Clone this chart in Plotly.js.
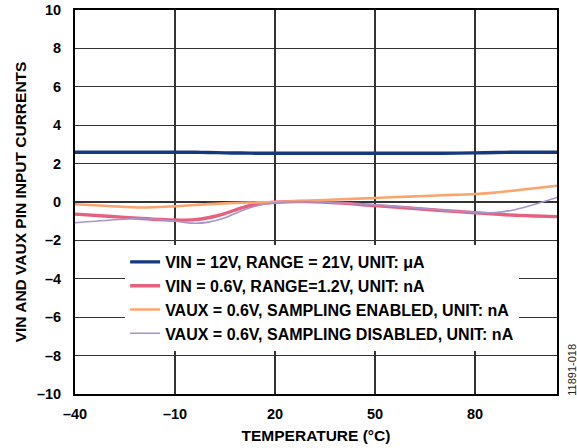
<!DOCTYPE html>
<html>
<head>
<meta charset="utf-8">
<script src="https://cdn.plot.ly/plotly-3.0.1.min.js"></script>
<style>
  html, body { margin: 0; padding: 0; background: #fff; }
  #chart { width: 577px; height: 448px; }
</style>
</head>
<body>
<div id="chart"></div>
<script>
// Temperature sample points (°C)
const temps = [-40, -30, -20, -10, -4, 0, 5, 10, 15, 20, 30, 40, 50, 60, 70, 80, 86, 92, 98, 104.6];

// Series values
const vin12 =   [2.59, 2.59, 2.59, 2.59, 2.59, 2.58, 2.56, 2.55, 2.54, 2.54, 2.54, 2.54, 2.54, 2.54, 2.54, 2.56, 2.58, 2.59, 2.59, 2.59];
const vin06 =   [-0.63, -0.74, -0.86, -0.94, -0.92, -0.82, -0.60, -0.30, -0.10, -0.01, 0.02, -0.06, -0.19, -0.31, -0.44, -0.56, -0.63, -0.69, -0.73, -0.76];
const vauxEn =  [-0.12, -0.21, -0.29, -0.22, -0.16, -0.11, -0.07, -0.04, -0.02, 0.00, 0.07, 0.14, 0.21, 0.28, 0.35, 0.42, 0.49, 0.60, 0.72, 0.85];
const vauxDis = [-1.08, -0.95, -0.86, -1.00, -1.11, -1.05, -0.82, -0.45, -0.18, -0.04, 0.02, -0.06, -0.15, -0.28, -0.42, -0.54, -0.55, -0.40, -0.12, 0.24];

const seriesNames = [
  'VIN = 12V, RANGE = 21V, UNIT: μA',
  'VIN = 0.6V, RANGE=1.2V, UNIT: nA',
  'VAUX = 0.6V, SAMPLING ENABLED, UNIT: nA',
  'VAUX = 0.6V, SAMPLING DISABLED, UNIT: nA'
];

// Tick labels
const xTickVals = [-40, -10, 20, 50, 80];
const xTickText = ['–40', '–10', '20', '50', '80'];
const yTickVals = [-10, -8, -6, -4, -2, 0, 2, 4, 6, 8, 10];
const yTickText = ['–10', '–8', '–6', '–4', '–2', '0', '2', '4', '6', '8', '10'];

const FONT = 'Liberation Sans, Arial, Helvetica, sans-serif';

const traces = [
  { x: temps, y: vin12,   name: seriesNames[0], type: 'scatter', mode: 'lines', line: { color: '#15387e', width: 3.4, shape: 'spline', smoothing: 0.8 } },
  { x: temps, y: vin06,   name: seriesNames[1], type: 'scatter', mode: 'lines', line: { color: '#e5617e', width: 3.4, shape: 'spline', smoothing: 0.8 } },
  { x: temps, y: vauxEn,  name: seriesNames[2], type: 'scatter', mode: 'lines', line: { color: '#fba46d', width: 2.6, shape: 'spline', smoothing: 0.8 } },
  { x: temps, y: vauxDis, name: seriesNames[3], type: 'scatter', mode: 'lines', line: { color: '#a893cc', width: 1.6, shape: 'spline', smoothing: 0.8 } }
];

const layout = {
  width: 577,
  height: 448,
  margin: { l: 75, r: 20, t: 10, b: 54 },
  paper_bgcolor: '#ffffff',
  plot_bgcolor: '#ffffff',
  font: { family: FONT, color: '#000', size: 14 },
  showlegend: true,
  xaxis: {
    range: [-40, 104.6],
    tickmode: 'array',
    tickvals: xTickVals,
    ticktext: xTickText,
    showgrid: true,
    gridcolor: '#333333',
    gridwidth: 1.3,
    zeroline: false,
    showline: true,
    mirror: true,
    linecolor: '#000000',
    linewidth: 2,
    ticks: '',
    ticklabelstandoff: 6,
    tickfont: { family: FONT, size: 14.5, weight: 'bold', color: '#000' },
    title: { text: 'TEMPERATURE (°C)', font: { family: FONT, size: 15.5, weight: 'bold', color: '#000' }, standoff: 9 }
  },
  yaxis: {
    range: [-10, 10],
    tickmode: 'array',
    tickvals: yTickVals,
    ticktext: yTickText,
    showgrid: true,
    gridcolor: '#333333',
    gridwidth: 1.3,
    zeroline: false,
    showline: true,
    mirror: true,
    linecolor: '#000000',
    linewidth: 2,
    ticks: '',
    ticklabelstandoff: 9,
    tickfont: { family: FONT, size: 14.5, weight: 'bold', color: '#000' },
    title: { text: 'VIN AND VAUX PIN INPUT CURRENTS', font: { family: FONT, size: 15.5, weight: 'bold', color: '#000' }, standoff: 6 }
  },
  legend: {
    x: 0.104,
    y: 0.388,
    xanchor: 'left',
    yanchor: 'top',
    bgcolor: '#ffffff',
    borderwidth: 0,
    itemwidth: 30,
    tracegroupgap: 0,
    font: { family: FONT, size: 16, weight: 'bold', color: '#000' }
  },
  annotations: [
    {
      text: '11891-018',
      xref: 'paper', yref: 'paper',
      x: 1.0305, y: 0.0625,
      xanchor: 'center', yanchor: 'middle',
      textangle: -90,
      showarrow: false,
      font: { family: FONT, size: 11, color: '#222' }
    }
  ]
};

Plotly.newPlot('chart', traces, layout, { displayModeBar: false, staticPlot: true });
</script>
</body>
</html>
